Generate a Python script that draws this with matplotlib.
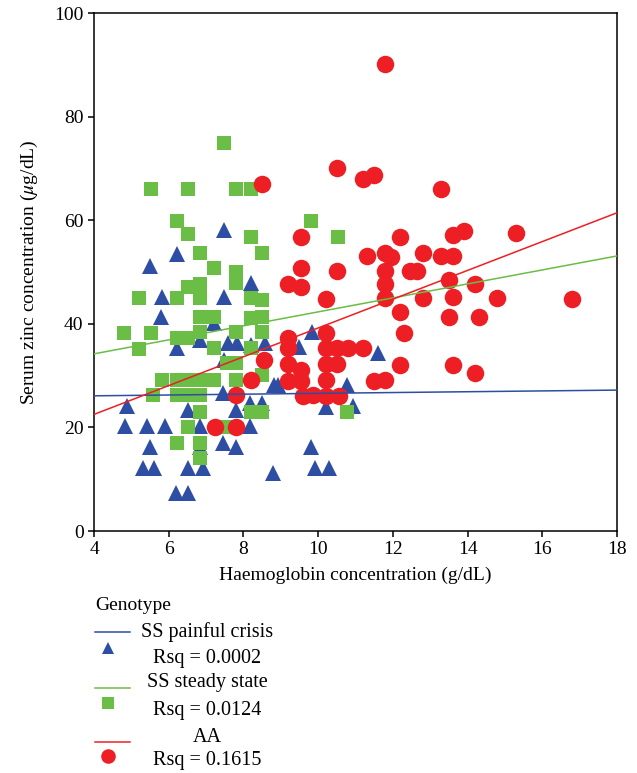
import matplotlib
matplotlib.use("Agg")
import matplotlib.pyplot as plt
from matplotlib.lines import Line2D
import numpy as np

# SS painful crisis (triangles)
crisis_hb = [7.48, 6.22, 5.5, 8.2, 5.82, 7.48, 5.8, 7.2, 6.83, 6.22, 7.58, 7.82,
             8.2, 8.57, 9.5, 9.83, 11.6, 8.81, 8.92, 10.77, 7.45, 4.88, 6.51, 7.8,
             8.17, 8.5, 10.2, 10.93, 4.83, 5.42, 5.9, 6.83, 8.17, 5.5, 7.45, 7.8,
             6.83, 9.8, 5.31, 5.6, 6.51, 6.91, 8.79, 9.91, 10.28, 6.19, 6.51, 7.48]
crisis_zn = [58.1, 53.5, 51.2, 47.9, 45.2, 45.2, 41.3, 40.2, 36.9, 35.3, 36.3, 36.3,
             35.9, 36.3, 35.5, 38.4, 34.4, 28.2, 28.2, 28.2, 26.6, 24.1, 23.4, 23.4,
             24.7, 24.7, 23.9, 24.1, 20.3, 20.3, 20.3, 20.3, 20.3, 16.2, 17.0, 16.2,
             16.2, 16.2, 12.2, 12.2, 12.2, 12.2, 11.2, 12.2, 12.2, 7.3, 7.3, 33.0]

# SS steady state (squares)
steady_hb = [7.48, 5.52, 6.51, 7.8, 8.2, 6.22, 9.8, 6.51, 8.2, 10.52, 6.83, 8.5,
             7.2, 7.8, 7.8, 6.51, 6.83, 5.2, 6.22, 6.83, 8.2, 8.5, 6.83, 7.2,
             8.2, 8.5, 4.8, 5.52, 6.22, 6.51, 6.83, 7.8, 8.5, 5.2, 7.2, 8.2,
             7.56, 7.8, 8.5, 5.82, 6.22, 6.51, 6.83, 7.2, 7.8, 5.58, 6.22, 6.51,
             6.83, 6.83, 8.2, 8.5, 10.77, 6.51, 7.5, 6.22, 6.83, 6.83]
steady_zn = [74.9, 66.0, 66.0, 66.0, 66.0, 59.8, 59.8, 57.3, 56.8, 56.8, 53.7, 53.7,
             50.8, 50.0, 47.9, 47.1, 47.7, 45.0, 45.0, 45.0, 45.0, 44.6, 41.3, 41.3,
             41.1, 41.3, 38.2, 38.2, 37.3, 37.3, 38.4, 38.4, 38.4, 35.1, 35.3, 35.3,
             32.4, 32.4, 30.1, 29.1, 29.1, 29.1, 29.1, 29.1, 29.1, 26.3, 26.3, 26.3,
             26.3, 23.0, 23.0, 23.0, 23.0, 20.1, 20.1, 17.0, 17.0, 14.1]

# AA (circles)
aa_hb = [11.8, 10.5, 11.2, 11.5, 13.3, 8.5, 9.55, 12.2, 13.6, 13.9, 15.3, 11.3,
         11.8, 11.95, 12.8, 13.3, 13.6, 9.55, 10.5, 11.8, 12.45, 12.65, 13.5, 14.2,
         9.2, 9.55, 11.8, 10.2, 11.8, 12.8, 13.6, 14.8, 16.8, 12.2, 13.5, 14.3,
         12.3, 10.2, 9.2, 9.2, 10.2, 10.5, 10.8, 11.2, 8.55, 9.2, 9.55, 10.2,
         10.5, 12.2, 13.6, 14.2, 11.5, 11.8, 9.2, 9.55, 10.2, 8.2, 7.8, 9.6,
         9.85, 10.2, 10.55, 7.25, 7.8]
aa_zn = [90.2, 70.0, 68.0, 68.7, 66.0, 67.0, 56.7, 56.8, 57.2, 58.0, 57.5, 53.1,
         53.6, 52.9, 53.7, 53.1, 53.1, 50.8, 50.2, 50.2, 50.2, 50.2, 48.4, 47.6,
         47.7, 47.1, 47.7, 44.7, 45.0, 45.0, 45.2, 45.0, 44.8, 42.3, 41.4, 41.4,
         38.2, 38.2, 37.2, 35.3, 35.3, 35.3, 35.3, 35.3, 33.0, 32.2, 31.0, 32.2,
         32.2, 32.0, 32.0, 30.5, 28.9, 29.1, 29.0, 29.0, 29.1, 29.2, 26.3, 26.1,
         26.3, 26.1, 26.0, 20.1, 20.1]

# fitted lines (intercept, slope) and R squared from the figure
fit_intercept = [25.78, 28.8, 11.39]
fit_slope = [0.079, 1.35, 2.78]
labels = ["SS painful crisis", "SS steady state", "AA"]
rsq = ["0.0002", "0.0124", "0.1615"]

colors = ["#2d4ea2", "#6abd45", "#ed1f24"]
markers = ["^", "s", "o"]
msizes = [11, 10.5, 12.6]

plt.rcParams["font.family"] = ["Liberation Serif", "DejaVu Serif"]
plt.rcParams["mathtext.fontset"] = "stix"

W, H = 637, 773
fig = plt.figure(figsize=(W / 100, H / 100), dpi=100)
ax = fig.add_axes([94 / W, 1 - 531 / H, 523 / W, 518 / H])

groups = [(crisis_hb, crisis_zn), (steady_hb, steady_zn), (aa_hb, aa_zn)]
for i, (hb, zn) in enumerate(groups):
    ax.plot(hb, zn, linestyle="none", marker=markers[i], markersize=msizes[i],
            color=colors[i], markeredgewidth=0, zorder=2 + i)

xs = np.array([4, 18])
for i in range(3):
    ax.plot(xs, fit_intercept[i] + fit_slope[i] * xs, color=colors[i], lw=1.1, zorder=6)

ax.set_xlim(4, 18)
ax.set_ylim(0, 100)
ax.set_xticks(range(4, 19, 2))
ax.set_yticks(range(0, 101, 20))
ax.tick_params(direction="out", length=4, width=1.1, labelsize=14, colors="black")
for s in ax.spines.values():
    s.set_linewidth(1.1)
ax.set_xlabel("Haemoglobin concentration (g/dL)", fontsize=14, labelpad=6)
ax.set_ylabel(r"Serum zinc concentration ($\mu$g/dL)", fontsize=14, labelpad=10)


def fp(x, y):
    return x / W, 1 - y / H


# legend drawn by hand below the axes
fig.text(*fp(95, 605), "Genotype", fontsize=14, va="center", ha="left")
line_y = [632, 688, 742]
mark_y = [648, 703, 756]
lab_y = [632, 683, 738]
rsq_y = [658, 711, 760]
leg_ms = [8, 8, 10.5]
for i in range(3):
    x0, y0 = fp(95, line_y[i])
    x1, _ = fp(130, line_y[i])
    fig.add_artist(Line2D([x0, x1], [y0, y0], color=colors[i], lw=1.1,
                          transform=fig.transFigure))
    mx, my = fp(108, mark_y[i])
    fig.add_artist(Line2D([mx], [my], marker=markers[i], markersize=leg_ms[i],
                          color=colors[i], markeredgewidth=0, linestyle="none",
                          transform=fig.transFigure))
    fig.text(*fp(207, lab_y[i]), labels[i], fontsize=14.5, va="center", ha="center")
    fig.text(*fp(207, rsq_y[i]), "Rsq = " + rsq[i], fontsize=14.5, va="center", ha="center")

fig.savefig("out.png", dpi=100)
